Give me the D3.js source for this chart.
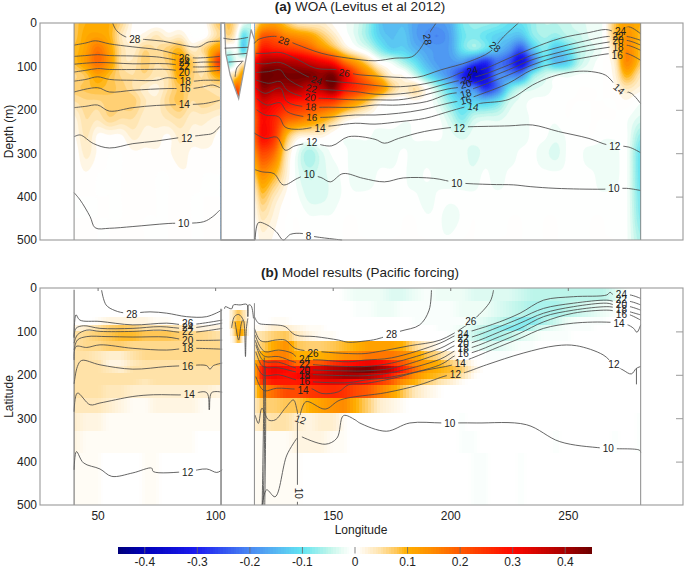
<!DOCTYPE html>
<html><head><meta charset="utf-8">
<style>html,body{margin:0;padding:0;background:#fff}svg{display:block}text{font-family:"Liberation Sans",Arial,sans-serif;fill:#222}</style>
<script src="https://cdn.jsdelivr.net/npm/d3@7/dist/d3.min.js"></script>
</head><body><svg id="c" width="685" height="569"></svg>
<script>
// ---------- axes ----------
const xTicks=[50,100,150,200,250];
const depthTicks=[0,100,200,300,400,500];
const cbTicks=[-0.4,-0.3,-0.2,-0.1,0,0.1,0.2,0.3,0.4];
const cbStops=[-0.45,-0.4,-0.3,-0.2,-0.1,-0.05,-0.02,-0.005,0.005,0.02,0.05,0.08,0.1,0.15,0.2,0.3,0.4,0.45];
const cbColors=["#00007a","#0000b8","#1c1cf0","#4a88f2","#62e4f2","#bcf5ea","#eefdf6","#ffffff","#ffffff","#fff5e2","#ffe2a8","#ffc655","#ffb000","#ff8a00","#ff5a00","#ff0800","#a80000","#6e0000"];
// ---------- anomaly grids, hundredths ----------
const lonIndian=[40,45,50,55,60,65,70,75,80,85,90,95,102];
const lonPacific=[117,120,125,130,135,140,145,150,155,160,165,170,175,180,185,190,195,200,205,210,215,220,225,230,235,240,245,250,255,260,265,270,275,281];
const depthA=[0,30,60,90,120,150,180,220,260,300,350,400,450,500];
const fieldAIndian=[
[8,10,10,10,6,1,0,0,0,0,0,0,8],
[8,11,12,10,4,1,2,4,2,3,0,0,6],
[9,12,17,12,5,3,6,5,7,9,3,6,14],
[9,13,18,13,5,4,7,5,7,12,8,3,25],
[6,8,12,9,6,5,6,4,5,11,7,5,12],
[7,8,9,8,7,5,3,2,5,8,6,5,5],
[5,6,6,7,7,7,4,3,6,8,5,6,5],
[2,5,4,6,5,5,3,3,4,5,3,3,2],
[1,4,1,1,1,3,2,2,1,3,2,2,1],
[0,3,1,0,0,1,1,1,1,2,1,1,1],
[0,1,0,0,0,1,1,0,0,1,1,0,0],
[0,0,0,0,0,1,1,0,0,1,0,0,0],
[0,0,0,0,0,1,0,0,0,1,0,0,0],
[0,0,0,0,1,1,0,0,0,1,0,0,0]];
const fieldAPacific=[
[5,10,12,8,4,3,3,1,-1,-3,-7,-13,-15,-14,-17,-18,-18,-16,-9,-7,-7,-8,-10,-10,-7,-5,-5,-4,-3,-2,-1,8,12,10],
[10,20,20,16,14,12,8,4,0,-3,-7,-12,-14,-13,-17,-19,-20,-17,-10,-8,-10,-12,-13,-14,-8,-6,-7,-5,-4,-2,-1,8,14,9],
[15,28,27,25,23,20,15,10,4,0,-3,-8,-12,-12,-15,-17,-18,-17,-10,-7,-10,-14,-18,-24,-14,-8,-13,-10,-5,-3,-1,5,15,9],
[30,38,40,39,38,35,32,28,18,12,6,0,-2,-6,-10,-15,-18,-18,-18,-24,-28,-22,-25,-33,-22,-10,-14,-12,-5,-2,0,3,15,8],
[32,45,45,44,44,44,42,44,33,22,15,8,2,1,-4,-10,-15,-20,-28,-38,-33,-20,-20,-20,-8,-4,-2,-2,-1,-1,0,2,10,4],
[30,42,40,40,40,36,38,43,30,25,20,15,7,3,5,0,-6,-12,-18,-20,-28,-22,-10,-5,-3,-2,-1,-1,0,0,0,1,4,2],
[25,35,32,30,28,27,25,24,18,13,8,2,0,0,1,0,-3,-8,-12,-12,-13,-10,-4,-2,-1,-1,-1,0,0,0,0,0,1,-1],
[20,30,27,20,18,15,12,8,3,1,0,0,0,-1,-1,-1,-1,-4,-8,-4,-3,-3,-2,-2,-1,-1,-1,0,-1,0,0,0,-1,-3],
[20,30,25,10,3,2,2,0,-1,-1,-1,-2,-2,-2,-1,-1,-1,-2,-3,-2,-2,-2,-2,-2,-1,-1,-2,-1,-1,0,-1,-1,-1,-7],
[15,22,18,5,-2,-6,-3,-1,-1,-2,-2,-2,-2,-1,-2,-2,-2,-2,-2,-3,-2,-2,-2,-1,-1,-2,-3,-1,-1,-2,-2,-2,-1,-10],
[8,14,10,3,-2,-4,-3,-2,-1,-2,-2,-1,-1,-1,-2,-1,-2,-2,-2,-2,-1,-2,-1,-1,-1,-1,-1,-1,-1,-1,-2,-2,-1,-10],
[3,8,4,1,-1,-3,-3,-2,-1,-1,-1,-1,-1,-1,-1,-2,-1,-1,-1,-1,-1,-1,-1,-1,-1,-1,-1,-1,-1,-1,-1,-1,-1,-9],
[1,4,2,0,0,-1,-1,-1,0,0,-1,-1,-1,0,0,-1,-1,-2,-1,0,-1,-1,0,0,-1,0,0,-1,-1,0,0,-1,-1,-8],
[0,2,1,0,0,0,0,0,0,0,0,-1,0,0,0,0,-1,-1,0,0,-1,0,0,0,0,0,0,0,0,0,0,0,-1,-6]];
const lonGulfA=[103,106,109,112,115];
const depthGulfA=[0,30,60,90,120,150,175];
const fieldGulfA=[[6,8,4,-2,-4],[4,6,1,-10,-6],[0,-2,-1,-12,-3],[-6,-8,-2,2,0],[0,3,6,12,0],[0,0,20,10,0],[0,0,30,0,0]];
const bandB=[0,30,66,85,100,123,145,165,180,195,210,223,254,287,330,380,500];
const fieldBIndian=[
[0,0,0,0,0,0,0,0,0,0,0,0,0],
[0,0,0,0,0,0,0,0,0,0,0,0,0],
[0,0,1,2,2,2,2,1,1,0,0,0,0],
[2,3,5,7,8,7,5,5,5,4,3,2,2],
[5,6,7,8,9,9,8,8,8,7,6,6,5],
[5,6,6,7,7,6,6,6,6,6,6,6,6],
[5,5,4,3,3,5,6,6,6,6,6,6,6],
[5,5,5,2,2,4,5,5,5,5,6,6,6],
[5,5,5,4,3,5,5,5,5,5,5,5,5],
[5,5,5,5,5,5,5,5,5,5,5,5,5],
[5,5,5,5,5,5,4,5,5,5,5,5,5],
[5,5,5,4,4,3,3,3,3,3,3,3,2],
[4,4,4,3,2,1,1,2,2,2,2,1,1],
[3,2,2,1,1,1,1,1,1,1,1,1,1],
[2,1,1,1,1,1,1,1,1,1,1,0,0],
[1,1,1,0,0,0,1,1,0,0,0,0,0]];
const fieldBPacific=[
[0,0,0,0,0,0,0,0,-1,-2,-2,-2,-3,-3,-2,-1,-2,-2,-2,-3,-3,-3,-3,-4,-5,-5,-5,-5,-5,-5,-5,-3,-1,0],
[0,0,0,0,0,0,0,0,0,-1,-1,-2,-2,-1,-1,-1,-1,-1,-2,-2,-2,-3,-4,-5,-6,-6,-6,-5,-4,-3,-2,-1,0,0],
[0,0,1,1,0,0,0,0,0,0,0,0,0,0,-1,-1,-1,-1,-1,-2,-3,-4,-6,-8,-8,-6,-4,-2,-1,-1,-1,0,0,0],
[1,1,3,3,2,1,1,0,0,0,0,0,0,0,0,0,-1,-1,-2,-3,-5,-7,-8,-8,-5,-3,-2,-1,-1,-1,0,0,0,0],
[4,5,7,8,4,2,1,1,0,0,0,0,0,0,0,0,0,-1,-2,-4,-6,-6,-5,-3,-2,-1,-1,-1,0,0,0,0,0,0],
[5,7,11,14,8,7,7,8,9,10,12,12,12,10,6,3,1,0,-1,-2,-3,-3,-2,-1,-1,0,0,0,0,0,0,0,0,0],
[7,10,15,16,10,10,10,12,14,15,17,17,17,15,12,8,6,3,0,0,-1,-1,-1,0,0,0,0,0,0,0,0,0,0,0],
[10,22,26,24,18,20,20,25,28,30,32,30,26,20,15,12,10,7,4,1,0,0,0,0,0,0,0,0,0,0,0,0,0,0],
[12,28,32,30,28,33,34,38,40,43,44,40,36,26,18,12,10,9,7,2,0,0,0,0,0,0,0,0,0,0,0,0,0,0],
[12,28,31,29,30,35,36,38,40,40,38,34,28,20,14,10,9,8,5,1,0,0,0,0,0,0,0,0,0,0,0,0,0,0],
[10,25,28,28,28,30,32,33,32,30,28,24,20,14,10,7,5,3,1,0,0,0,0,0,0,0,0,0,0,0,0,0,0,0],
[7,15,18,22,22,24,25,26,25,22,20,16,12,8,4,2,1,0,0,0,0,0,0,0,0,0,0,0,0,0,0,0,0,0],
[4,7,7,8,8,10,12,14,15,10,7,3,2,1,0,0,0,0,0,0,0,0,0,0,0,0,0,0,0,0,0,0,0,0],
[3,4,5,5,3,2,3,3,1,0,0,0,0,0,0,0,0,0,-1,0,0,0,0,0,0,0,0,0,0,0,0,0,0,-1],
[1,1,1,1,2,2,2,1,1,0,0,0,0,0,0,0,0,0,-1,-1,0,0,0,0,0,0,-1,0,0,0,0,-1,0,-1],
[1,1,1,1,1,0,0,0,0,0,0,0,0,0,0,0,0,0,0,-1,-1,0,0,-1,0,0,0,0,0,0,0,0,0,0]];
const lonGulfB=[106,108,110,112,114];
const bandGulfB=[50,75,95,110,125];
const fieldGulfB=[[1,5,8,5,1],[1,8,10,8,1],[0,6,12,10,1],[0,3,9,2,0]];
// ---------- land in panel (a) ----------
const landLonA=[102.5,104,104.5,106.4,110,114.2,115.3,116.7,116.7,102.5];
const landDepA=[0,0,70,120,174,51,15,39,500,500];
// ---------- isotherms panel (a): [lon],[depth] ----------
const aI28=[[56.4,58,62,70,78,86,93,97,102],[0,17,32,38,42,51,55,44,42]];
const aI26=[[40,45,49,55,65,75,80,90,95,102],[51,46,41,48,55,61,67,80,80,77]];
const aI24=[[40,45,50,55,65,75,80,90,95,102],[77,75,73,75,76,78,82,91,90,90]];
const aI22=[[40,50,65,80,90,102],[95,91,94,94,101,100]];
const aI20=[[40,45,50,55,70,80,90,102],[113,109,105,107,107,107,113,109]];
const aI18=[[40,45,50,55,65,75,80,90,95,102],[134,130,124,130,132,132,126,134,132,132]];
const aI16=[[40,50,55,65,80,90,95,99,102],[159,149,159,155,151,151,147,143,149]];
const aI14=[[40,45,50,55,65,75,85,95,102],[195,192,189,203,195,190,188,186,178]];
const aI12=[[40,42.6,48.3,55,65,75,85,95,99,102],[262,258,278,288,278,272,264,258,254,238]];
const aI10=[[40,42.6,46.8,49,55,65,80,95,99,102],[391,408,446,472,473,469,462,458,446,431]];
const aP28=[[116.7,118.4,126.2,134,145.4,156.7,168,176.5,183.6,187,191,194],[47,38,31,48,70,81,87,81,78,61,24,0]];
const aP26=[[117.3,121.3,127.7,134,142.6,152.5,159.6,168,176.5,186,196,208,217,222.6,229],[70,70,68,81,104,108,118,122,125,125,108,89,66,32,0]];
const aP24=[[117.3,121.3,127.7,134,141,151,159.6,168,176.5,186,199,206,213,225,235,247,259,266,271,276,281],[93,94,91,108,127,135,139,144,147,143,127,112,108,81,58,35,22,15,20,9,25]];
const aP22=[[117.3,122.7,127.7,130.5,138.3,148.2,159.6,168,176.5,186,199,205.6,213.4,224.7,234.7,244.6,256,267.3,270.8,275,281],[114,112,108,127,150,154,158,164,164,158,139,130,120,97,74,58,43,31,33,31,40]];
const aP20=[[117.3,122.7,127.7,130.5,137.6,148.2,159.6,168,178,186,199,205,212,224.7,234.7,244.6,256,268.7,275,281],[131,139,135,154,170,174,177,177,177,170,152,147,135,108,85,70,55,43,40,51]];
const aP18=[[117.3,121.3,127.7,130.5,138.3,148.2,159.6,168,178,190,199,206,212,224.7,234.7,244.6,256,268.7,275,281],[150,162,150,181,193,194,194,189,189,181,164,158,147,120,97,79,66,55,51,63]];
const aP16=[[117.7,122,127.7,130.5,138.3,148.2,159.6,168,178,188,199,206,213,224.7,234.7,244.6,256,268.7,275,281],[174,189,184,204,216,217,212,212,208,200,185,177,164,139,108,93,81,70,70,86]];
const aP14=[[117.7,121.3,127,129.8,135.5,142.6,149.6,159.6,168,179,189,200.6,208,213,225,235,243,253,260,266,269,272,277,281],[200,212,216,240,245,240,237,231,233,227,220,202,191,185,176,143,124,112,112,120,135,154,162,186]];
const aP12=[[116.8,121.3,126.2,129.8,134,141,149.6,156.7,168,172,178,189,202,208,225,235,246,259,267,276,281],[254,266,263,293,283,277,283,262,268,277,266,250,240,239,237,235,250,266,281,286,299]];
const aP10=[[117,120,125,129,135,139,145,149,154.4,163,172,180,193,203,217,227,234,245,265,275,281],[338,343,347,373,358,350,356,366,347,358,366,357,358,368,372,373,377,381,383,381,386]];
const aP8=[[117,118.4,122,126,129,132,137,141,154],[500,460,465,481,500,487,485,491,500]];
const aG1=[[103.5,108,114],[35,38,33]];
const aG2=[[104,114],[58,56]];
const aG3=[[105,113.5],[74,70]];
const aG4=[[105.7,112],[90,88]];
const aG5=[[108.5,109.2,111.5],[124,104,90]];
// ---------- isotherms panel (b) ----------
const bI28=[[51.7,53.6,57.4,62.4,72.3,79.4,87.9,96.4,103],[5,39,52,58,55,58,66,66,51]];
const bI26=[[40,40.8,42.5,51,65,79.4,88,103],[115,62,74,77,85,81,85,74]];
const bI24=[[40,40.8,44,51,65,76.6,88,103],[112,93,87,93,93,89,93,81]];
const bI22=[[40,41.4,45.4,51,65,76.6,88,103],[127,108,97,100,100,97,103,93]];
const bI20=[[40,41.4,45.4,54,65,79.4,88,103],[143,120,112,112,113,113,120,120]];
const bI18=[[40,40.8,45.4,51,65,79.4,88,103],[166,135,137,131,139,143,139,141]];
const bI16=[[40,41.4,43.2,51,65,79.4,88,96.4,97.8,99.2,103],[221,181,167,177,187,181,179,179,187,179,173]];
const bI14=[[40,41.4,46.8,51,65,73.7,88,96.4,97.5,98.5,103],[285,242,269,265,250,246,246,241,281,241,240]];
const bI12=[[40,41,44,51,56,65,73,73.7,88,96.4,100.7,103],[419,377,403,417,434,426,415,423,423,417,425,419]];
const bP28=[[116.7,118.4,121.3,125.5,129.8,134,142.6,152.5,156.7,163.8,168.6,178.5,187,191,192],[66,81,84,85,89,108,112,120,125,122,118,100,85,51,5]];
const bP26=[[116.7,119,121.3,125.5,129.8,134,145.4,156.7,163.8,170,182.8,195.7,206,210.6,217,218.4],[93,120,124,120,120,139,147,151,151,146,133,120,89,70,31,5]];
const bP24=[[117,119.1,121.3,127,132.6,135.5,145.4,156.7,163.8,175,195.7,202.8,209.2,221,229.7,239.7,252.4,266.6,268,269.5,276.5,281],[108,135,147,143,150,162,166,170,166,161,127,108,99,78,58,28,20,16,10,16,16,24]];
const bP22=[[117,119.1,121.3,127,134,142.6,156.7,163.8,175,195.7,202.8,209.2,221,229.7,239.7,252.4,266.6,270,276.5,281],[120,147,158,158,171,177,181,181,173,139,120,113,89,70,47,35,28,31,31,39]];
const bP20=[[117.3,119.6,121.3,127,134.8,142.6,156.7,163.8,175,195.7,202.8,209.2,221,229.7,239.7,252.4,266.6,270,276.5,281],[131,162,170,171,185,189,191,191,185,150,131,126,101,81,58,43,35,39,43,51]];
const bP18=[[117.3,119.6,121.3,127,134.8,141,156.7,163.8,175,195.7,202.8,209.2,221,229.7,239.7,252.4,266.6,270,276.5,281],[147,177,183,184,194,199,202,202,195,164,143,137,112,93,66,51,43,45,55,62]];
const bP16=[[117.3,119.6,121.3,127,134.8,141,156.7,163.8,175,195.7,202.8,209.2,221,229.7,239.7,252.4,266.6,270,276.5,281],[174,197,202,200,212,216,218,212,205,177,154,149,124,104,78,58,51,53,62,74]];
const bP14=[[117.3,119.6,121.3,126.2,134.8,140.4,145.4,152.5,156.7,163.8,175.7,187,201.2,209,221,229.7,239.7,252.4,268,275,278,279.4,281],[204,231,237,231,233,231,243,239,223,220,208,192,177,162,135,116,93,81,79,84,93,102,85]];
const bP12=[[117,118.4,119.9,122.7,125.5,129.8,133.3,134.8,135.5,138.6,146.8,153.2,172.8,187,198.4,202.2,205.5,215.4,231,245,253.7,265,269.6,273.5,277,279.2,281],[293,312,277,304,304,277,258,281,300,262,279,258,241,223,202,199,196,177,150,133,133,154,176,189,198,185,181]];
const bP10a=[[120,121.9,125.5,130.5,134.8],[500,465,481,385,346]];
const bP10b=[[136.9,146.8,151.8,154.6,159.6,161.5,172.8,182.8,197,211,232.4,246.6,265,280.6,281],[343,360,346,294,304,311,330,311,311,311,315,354,369,374,379]];
const bG1=[[104,104.3,107,107.8,110.6,113.5,113.9,114.2,115.3,116.3],[48,43,48,39,39,38,66,39,41,70]];
const bG2=[[107,108.2,110,112,112.5,112.9,113.3,113.9],[92,66,61,74,93,158,93,70]];
const bG3=[[108.5,110,111,111.6],[78,120,85,74]];
const bS1=[[120,120.6,120.9],[500,300,160]];
const bS2=[[121.1,121.5,121.3],[500,300,180]];
const bS3=[[120.4,121,120.7],[500,350,210]];
const bS4=[[135,135],[290,500]];
const bS5=[[279.2,279.2],[185,222]];
// ---------- contour labels: text, lon, depth, angle ----------
const labelsA=[["28",65.8,37,0],["26",86.9,82,0],["24",86.9,92,0],["22",86.9,101,0],["20",86.9,115,0],["18",87.3,134,0],["16",87.2,151,0],["14",86.9,188,0],["12",87.9,265,0],["10",86.6,461,0],
["28",129.3,41,20],["26",155,115,10],["24",143.2,132,20],["22",141,151,12],["20",140.4,171,8],["18",140.7,193,5],["16",141.1,217,5],["14",144.6,243,0],["12",141.1,276,0],["10",140,350,0],["8",139.7,491,0],
["28",190.3,38,80],["28",219,55,40],["24",209.4,110,-15],["22",207.2,130,-15],["20",206.6,141,-15],["18",206.6,163,-15],["16",206.6,178,-15],["14",209.7,193,10],["12",203.9,242,0],["12",270,284,0],["10",202.8,369,0],["10",269.6,381,0],["14",271.8,152,40],["24",272.4,19,0],["22",271.4,31,0],["20",271.4,41,0],["18",271.4,57,0],["16",271,75,0]];
const labelsB=[["28",64.5,60,0],["26",88.3,81,0],["24",88.3,91,0],["22",88.3,100,0],["20",88.3,120,0],["18",88.3,140,0],["16",88.3,180,0],["14",89,246,0],["12",88.3,424,0],
["26",141.6,151,0],["24",138,164,0],["22",138,177,0],["20",138,190,0],["18",138,202,0],["16",138,216,0],["14",137.4,237,0],["12",136.3,303,20],["10",135.5,473,90],
["28",175,107,0],["26",208.7,77,0],["24",205.5,107,0],["22",205.5,117,0],["20",205.5,127,0],["18",205.5,139,0],["16",205.5,150,0],["14",204.3,173,0],["12",202.2,199,0],["10",199.8,313,0],["10",267.2,369,0],["12",269.6,176,0],["24",272.8,16,0],["22",272.8,26,0],["20",272.8,37,0],["18",272.8,49,0],["16",272.8,62,0],["14",271.8,81,0]];
const linesA=[aI28,aI26,aI24,aI22,aI20,aI18,aI16,aI14,aI12,aI10,aP28,aP26,aP24,aP22,aP20,aP18,aP16,aP14,aP12,aP10,aP8,aG1,aG2,aG3,aG4,aG5];
const linesB=[bI28,bI26,bI24,bI22,bI20,bI18,bI16,bI14,bI12,bP28,bP26,bP24,bP22,bP20,bP18,bP16,bP14,bP12,bP10a,bP10b,bG1,bG2,bG3,bS1,bS2,bS3,bS4,bS5];

// ---------- drawing ----------
const svg=d3.select("#c");
const x=d3.scaleLinear().domain([25.5,299]).range([40,683]);
const yA=d3.scaleLinear().domain([0,500]).range([23,240]);
const yB=d3.scaleLinear().domain([0,500]).range([288,505]);
const color=d3.scaleLinear().domain(cbStops).range(cbColors).clamp(true);
const defs=svg.append("defs");
function clipRect(id,l0,l1,y){defs.append("clipPath").attr("id",id).append("rect").attr("x",x(l0)).attr("y",y(0)).attr("width",x(l1)-x(l0)).attr("height",y(500)-y(0));return "url(#"+id+")";}
function cr(p0,p1,p2,p3,t){return 0.5*((2*p1)+(-p0+p2)*t+(2*p0-5*p1+4*p2-p3)*t*t+(-p0+3*p1-3*p2+p3)*t*t*t);}
function up1(a,k){const n=a.length,o=[];for(let i=0;i<n-1;i++){for(let j=0;j<k;j++){o.push(cr(a[Math.max(i-1,0)],a[i],a[i+1],a[Math.min(i+2,n-1)],j/k));}}o.push(a[n-1]);return o;}
function drawSmooth(g,lons,deps,field,y,clip){
  const k=6;
  const rows=field.map(r=>up1(r.map(v=>v/100),k));
  const W=rows[0].length;
  const colsUp=d3.range(W).map(i=>up1(rows.map(r=>r[i]),k));
  const H=colsUp[0].length;
  const flat=[];for(let j=0;j<H;j++)for(let i=0;i<W;i++)flat.push(colsUp[i][j]);
  const lonOf=d3.scaleLinear().domain(d3.range(lons.length).map(i=>i*k)).range(lons).clamp(true);
  const depOf=d3.scaleLinear().domain(d3.range(deps.length).map(i=>i*k)).range(deps).clamp(true);
  const step=0.0125;
  const thr=d3.range(-0.45,0.4501,step);
  const path=d3.geoPath(d3.geoTransform({point(px,py){this.stream.point(x(lonOf(px-0.5)),y(depOf(py-0.5)));}}));
  const gg=g.append("g").attr("clip-path",clip);
  gg.selectAll("path").data(d3.contours().size([W,H]).thresholds(thr)(flat)).join("path")
    .attr("d",path).attr("fill",d=>color(d.value+step/2)).attr("stroke",d=>color(d.value+step/2)).attr("stroke-width",0.2);
}
function drawBlocks(g,lons,bands,field,y){
  const sub=4;
  const lonAt=d3.scaleLinear().domain(d3.range(lons.length)).range(lons);
  field.forEach((row,j)=>{
    const val=d3.scaleLinear().domain(lons).range(row.map(v=>v/100));
    const cells=d3.range(0,(lons.length-1)*sub).map(i=>({l0:lonAt(i/sub),l1:lonAt((i+1)/sub),v:val(lonAt((i+0.5)/sub))}));
    g.append("g").attr("shape-rendering","crispEdges").selectAll("rect").data(cells).join("rect")
      .attr("x",d=>x(d.l0)).attr("width",d=>x(d.l1)-x(d.l0)+0.6)
      .attr("y",y(bands[j])).attr("height",y(bands[j+1])-y(bands[j])+0.3)
      .attr("fill",d=>color(d.v));
  });
}
function drawIso(g,lines,labels,y,id){
  const mask=defs.append("mask").attr("id",id).attr("maskUnits","userSpaceOnUse").attr("x",0).attr("y",0).attr("width",685).attr("height",569);
  mask.append("rect").attr("width",685).attr("height",569).attr("fill","#fff");
  mask.selectAll("rect.l").data(labels).join("rect").attr("class","l")
    .attr("x",d=>x(d[1])-(d[0].length*3+2.5)).attr("y",d=>y(d[2])-4)
    .attr("width",d=>d[0].length*6+5).attr("height",8).attr("fill","#000")
    .attr("transform",d=>`rotate(${d[3]} ${x(d[1])} ${y(d[2])})`);
  const line=d3.line().x(d=>x(d[0])).y(d=>y(d[1])).curve(d3.curveCatmullRom.alpha(0.5));
  g.append("g").attr("mask",`url(#${id})`).selectAll("path").data(lines).join("path")
    .attr("d",l=>line(d3.zip(l[0],l[1]))).attr("fill","none").attr("stroke","#4a4a4a").attr("stroke-width",0.85);
  g.append("g").selectAll("text").data(labels).join("text").text(d=>d[0])
    .attr("text-anchor","middle").attr("dominant-baseline","central").attr("font-size",10)
    .attr("transform",d=>`translate(${x(d[1])},${y(d[2])}) rotate(${d[3]})`);
}
function frame(g,y,label,showX){
  g.append("rect").attr("x",40).attr("y",y(0)).attr("width",643).attr("height",y(500)-y(0)).attr("fill","none").attr("stroke","#9a9a9a").attr("stroke-width",1.1);
  const left=g.append("g").attr("transform","translate(40,0)").call(d3.axisLeft(y).tickValues(depthTicks).tickSize(0).tickPadding(3));
  left.select(".domain").remove();
  left.selectAll("text").attr("font-size",12).attr("font-family",'"Liberation Sans"').attr("fill","#222");
  const right=g.append("g").attr("transform","translate(683,0)").call(d3.axisRight(y).tickValues(depthTicks.slice(1,-1)).tickSize(-7).tickFormat(""));
  right.select(".domain").remove();right.selectAll("line").attr("stroke","#9a9a9a");
  if(showX){
    const bot=g.append("g").attr("transform",`translate(0,${y(500)})`).call(d3.axisBottom(x).tickValues(xTicks).tickSize(0).tickPadding(6));
    bot.select(".domain").remove();
    bot.selectAll("text").attr("font-size",12).attr("font-family",'"Liberation Sans"').attr("fill","#222");
    const top=g.append("g").attr("transform",`translate(0,${y(0)})`).call(d3.axisTop(x).tickValues(xTicks).tickSize(-3).tickFormat(""));
    top.select(".domain").remove();top.selectAll("line").attr("stroke","#777");
  }
  g.append("text").attr("transform",`translate(9,${(y(0)+y(500))/2}) rotate(-90)`).attr("text-anchor","middle").attr("dominant-baseline","central").attr("font-size",12).text(label);
}
function title(bold,rest,cx,yy){
  const t=svg.append("text").attr("x",cx).attr("y",yy).attr("text-anchor","middle").attr("font-size",13.5);
  t.append("tspan").attr("font-weight","bold").text(bold);
  t.append("tspan").text(" "+rest);
}
// panel a
const gA=svg.append("g");
drawSmooth(gA,lonIndian,depthA,fieldAIndian,yA,clipRect("ca1",40,102.5,yA));
drawSmooth(gA,lonPacific,depthA,fieldAPacific,yA,clipRect("ca2",116.7,281,yA));
drawSmooth(gA,lonGulfA,depthGulfA,fieldGulfA,yA,clipRect("ca3",102.5,116.7,yA));
gA.append("path").attr("d",d3.line().x(d=>x(d[0])).y(d=>yA(d[1]))(d3.zip(landLonA,landDepA))+"Z").attr("fill","#fff").attr("stroke","#9a9a9a").attr("stroke-width",1.3);
drawIso(gA,linesA,labelsA,yA,"ma");
[40,281].forEach(l=>gA.append("line").attr("x1",x(l)).attr("x2",x(l)).attr("y1",yA(0)).attr("y2",yA(500)).attr("stroke","#8a8a8a").attr("stroke-width",1));
frame(gA,yA,"Depth (m)",false);
title("(a)","WOA (Levitus et al 2012)",360,11);
// panel b
const gB=svg.append("g");
drawBlocks(gB,lonIndian,bandB,fieldBIndian,yB);
drawBlocks(gB,lonPacific,bandB,fieldBPacific,yB);
drawBlocks(gB,lonGulfB,bandGulfB,fieldGulfB,yB);
drawIso(gB,linesB,labelsB,yB,"mb");
[[40,4,"#666"],[102.5,48,"#8a8a8a"],[116.7,35,"#8a8a8a"],[281,0,"#8a8a8a"]].forEach(w=>gB.append("line").attr("x1",x(w[0])).attr("x2",x(w[0])).attr("y1",yB(w[1])).attr("y2",yB(500)).attr("stroke",w[2]).attr("stroke-width",w[0]===102.5?1.6:1));
frame(gB,yB,"Latitude",true);
title("(b)","Model results (Pacific forcing)",360,277);
svg.append("text").attr("x",361).attr("y",534).attr("text-anchor","middle").attr("font-size",12).text("Longitude");
// colour bar
const cb=d3.scaleLinear().domain([-0.45,0.45]).range([118,591]);
const gC=svg.append("g");
gC.append("g").attr("shape-rendering","crispEdges").selectAll("rect").data(d3.range(-0.45,0.45,0.005)).join("rect")
  .attr("x",d=>cb(d)).attr("y",547).attr("width",3.2).attr("height",6.5).attr("fill",d=>color(d+0.0025));
const cax=gC.append("g").attr("transform","translate(0,553.5)").call(d3.axisBottom(cb).tickValues(cbTicks).tickSize(-6.5).tickPadding(4).tickFormat(d=>d===0?"0":d3.format(".1f")(d).replace("\u2212","-")));
cax.select(".domain").remove();cax.selectAll("line").attr("stroke","#666").attr("stroke-opacity",0.8);
cax.selectAll("text").attr("font-size",12).attr("font-family",'"Liberation Sans"').attr("fill","#222");
</script></body></html>
